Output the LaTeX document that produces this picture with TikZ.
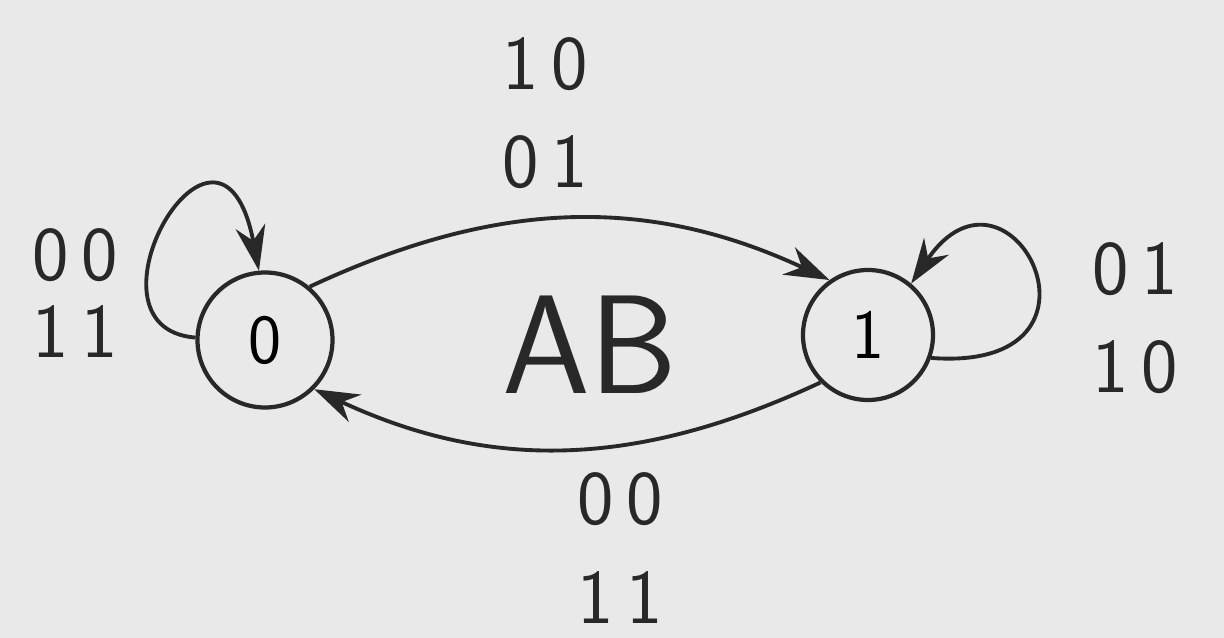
\documentclass[tikz,border=0pt]{standalone}
\usepackage{tikz}
\usetikzlibrary{arrows.meta}
\definecolor{boardgray}{RGB}{233,233,233}
\definecolor{inkcolor}{RGB}{40,40,40}

\begin{document}
\begin{tikzpicture}[
  state/.style={draw=inkcolor, circle, line width=2.4pt, minimum size=2.7cm},
  arr/.style={-{Stealth[length=9mm,width=6mm]}, line width=2.2pt, draw=inkcolor},
  lbl/.style={font=\fontsize{44}{56}\selectfont\sffamily, align=center, text=inkcolor}
]
  \fill[boardgray] (0,0) rectangle (24.48,12.76);
  \useasboundingbox (0,0) rectangle (24.48,12.76);

  \node[state] (s0) at (5.3,5.96) {\fontsize{40}{40}\selectfont\sffamily 0};
  \node[state, minimum size=2.6cm] (s1) at (17.36,6.06) {\fontsize{40}{40}\selectfont\sffamily 1};
  \node[text=inkcolor] (ab) at (11.8,5.86) {\fontsize{80}{80}\selectfont\sffamily AB};

  \node[lbl] (ltop)   at (10.9,10.5) {1\,0\\0\,1};
  \node[lbl] (lbot)   at (12.4,1.8)  {0\,0\\1\,1};
  \node[lbl, font=\fontsize{44}{44}\selectfont\sffamily] (lleft) at (1.5,6.9) {0\,0\\1\,1};
  \node[lbl] (lright) at (22.7,6.4)  {0\,1\\1\,0};

  \draw[arr] (s0.50) to[out=25, in=155] (s1.125);
  \draw[arr] (s1.225) to[out=205, in=335] (s0.-45);
  \draw[arr] (s0.178) .. controls (1.4,6.2) and (4.4,11.4) .. (s0.95);
  \draw[arr] (s1.-20) .. controls (22.6,5.3) and (20.2,10.0) .. (s1.50);
\end{tikzpicture}
\end{document}
